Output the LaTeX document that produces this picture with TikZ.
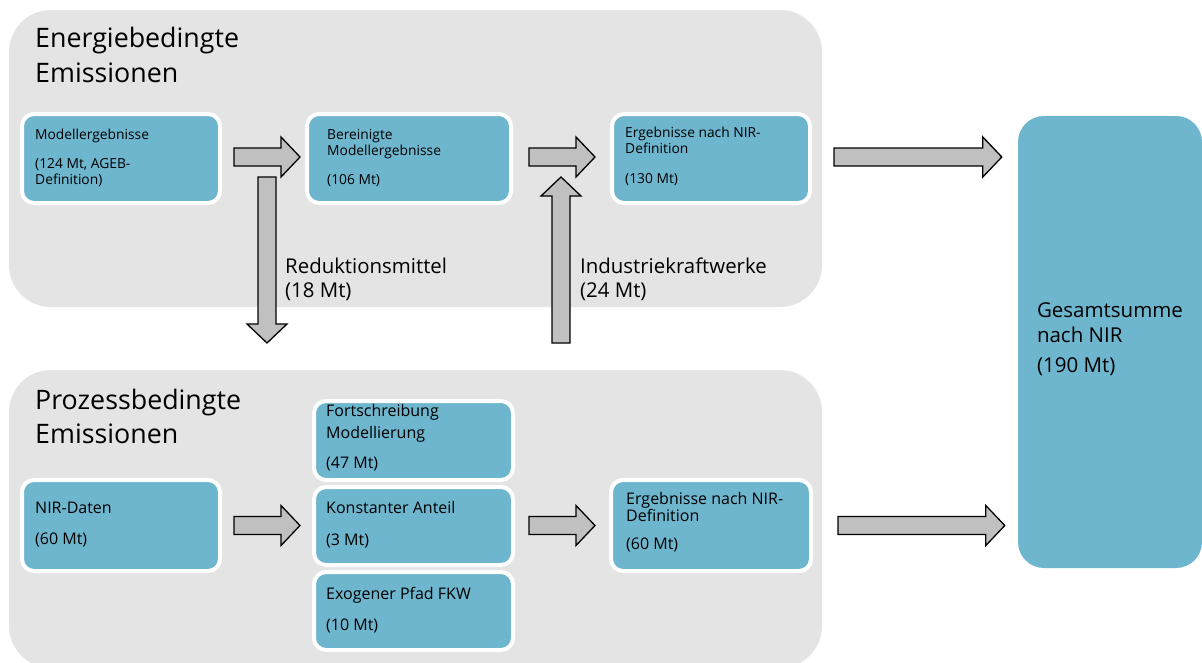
\documentclass[tikz,border=0pt]{standalone}
\usepackage{fontspec}
\setmainfont{Open Sans}
\usetikzlibrary{calc}
\definecolor{panelgray}{HTML}{E4E4E4}
\definecolor{boxblue}{HTML}{6EB5CE}
\definecolor{arrowgray}{HTML}{C0C0C0}
\newcommand\blockarrow[2]{%
  \coordinate (ba-s) at #1; \coordinate (ba-e) at #2;
  \coordinate (ba-h) at ($(ba-e)!19pt!(ba-s)$);
  \draw[barrow] ($(ba-s)!9pt!90:(ba-e)$) -- ($(ba-h)!9pt!-90:(ba-s)$) -- ($(ba-h)!20pt!-90:(ba-s)$) -- (ba-e)
    -- ($(ba-h)!20pt!90:(ba-s)$) -- ($(ba-h)!9pt!90:(ba-s)$) -- ($(ba-s)!9pt!-90:(ba-e)$) -- cycle;}
\newcommand\tlines[1]{\parbox[t]{220pt}{\raggedright #1}}
\begin{document}
\begin{tikzpicture}[x=1pt,y=-1pt,
  panel/.style={fill=panelgray, rounded corners=42pt},
  box/.style={draw=white, line width=4pt, fill=boxblue, rounded corners=12pt, inner sep=0pt},
  bigbox/.style={fill=boxblue, rounded corners=26pt, inner sep=0pt},
  barrow/.style={fill=arrowgray, draw=black, line width=1.3pt, line join=miter},
  boxtext/.style={anchor=base west, inner sep=0pt, font=\fontsize{13.8}{16}\selectfont},
  boxtextw/.style={boxtext, font=\fontsize{16}{16}\selectfont},
  title/.style={anchor=base west, inner sep=0pt, font=\fontsize{26.8}{35}\selectfont},
  label/.style={anchor=base west, inner sep=0pt, font=\fontsize{20.4}{24}\selectfont},
  glabel/.style={label, font=\fontsize{20.5}{25}\selectfont},
]
\useasboundingbox (0,0) rectangle (1202,662);
\fill[white] (0,0) rectangle (1202,662);
% panels
\path[panel] (9,10) rectangle (822,307);
\path[panel] (9,370) rectangle (822,668);
\node[title] (t1) at (35,47) {\tlines{Energiebedingte\\Emissionen}};
\node[title] (t2) at (35,409) {\tlines{Prozessbedingte\\[-1pt]Emissionen}};
% top boxes
\node[box, minimum width=198pt, minimum height=89pt] (m1) at (121,158.5) {};
\node[box, minimum width=204pt, minimum height=89pt] (m2) at (409,158.5) {};
\node[box, minimum width=198pt, minimum height=89pt] (m3) at (711,158.5) {};
\node[bigbox, minimum width=184pt, minimum height=452pt] (g) at (1110,342) {};
% bottom boxes
\node[box, minimum width=198pt, minimum height=91pt] (n1) at (121,525.5) {};
\node[box, minimum width=199pt, minimum height=79pt] (fo) at (413.5,440.5) {};
\node[box, minimum width=199pt, minimum height=78pt] (ko) at (413.5,526) {};
\node[box, minimum width=199pt, minimum height=78pt] (ex) at (413.5,611) {};
\node[box, minimum width=200pt, minimum height=91pt] (n3) at (711,525.5) {};
% texts
\node[boxtext] (m1t) at ($(m1.north west)+(15,27)$) {\tlines{Modellergebnisse\\[13pt](124 Mt, AGEB-\\Definition)}};
\node[boxtext] (m2t) at ($(m2.north west)+(22,27)$) {\tlines{Bereinigte\\Modellergebnisse\\[13pt](106 Mt)}};
\node[boxtext] (m3t) at ($(m3.north west)+(15,25)$) {\tlines{Ergebnisse nach NIR-\\Definition\\[14pt](130 Mt)}};
\node[boxtextw] (n1t) at ($(n1.north west)+(15,35)$) {\tlines{NIR-Daten\\[15pt](60 Mt)}};
\node[boxtextw] (fot) at ($(fo.north west)+(14,17)$) {\tlines{Fortschreibung\\[6pt]Modellierung\\[14pt](47 Mt)}};
\node[boxtextw] (kot) at ($(ko.north west)+(14,28)$) {\tlines{Konstanter Anteil\\[16pt](3 Mt)}};
\node[boxtextw] (ext) at ($(ex.north west)+(14,29)$) {\tlines{Exogener Pfad FKW\\[15pt](10 Mt)}};
\node[boxtextw] (n3t) at ($(n3.north west)+(17,26)$) {\tlines{Ergebnisse nach NIR-\\Definition\\[12pt](60 Mt)}};
\node[glabel] (gt) at ($(g.north west)+(19,202)$) {\tlines{Gesamtsumme\\nach NIR\\[5pt](190 Mt)}};
% arrows
\blockarrow{($(m1.east)+(12,-1.5)$)}{($(m2.west)+(-5,-1.5)$)}
\blockarrow{($(m2.east)+(16,-1.5)$)}{($(m3.west)+(-15,-1.5)$)}
\blockarrow{($(m3.east)+(22,-1.5)$)}{($(g.west|-m3.east)+(-16,-1.5)$)}
\blockarrow{($(n1.east)+(12,0)$)}{($(ko.west|-n1.east)+(-12,0)$)}
\blockarrow{($(ko.east|-n3.west)+(14,0)$)}{($(n3.west)+(-14,0)$)}
\blockarrow{($(n3.east)+(25,0)$)}{($(g.west|-n3.east)+(-13,0)$)}
\coordinate (redtop) at (267,177);
\coordinate (redtip) at (267,343);
\coordinate (indbot) at (561,343);
\coordinate (indtip) at (561,177);
\blockarrow{(redtop)}{(redtip)}
\blockarrow{(indbot)}{(indtip)}
\node[label] (redl) at ($(redtop)+(18,96)$) {\tlines{Reduktionsmittel\\(18 Mt)}};
\node[label] (indl) at ($(indtip)+(19,96)$) {\tlines{Industriekraftwerke\\(24 Mt)}};
\end{tikzpicture}
\end{document}
